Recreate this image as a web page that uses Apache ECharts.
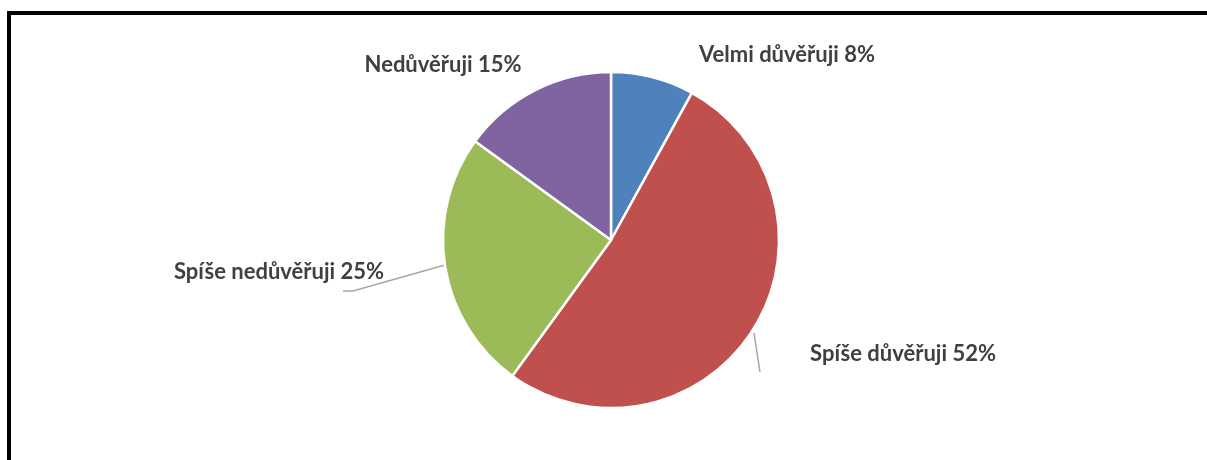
<!DOCTYPE html>
<html>
<head>
<meta charset="utf-8">
<script src="https://cdn.jsdelivr.net/npm/echarts@6/dist/echarts.min.js"></script>
<style>html,body{margin:0;padding:0;background:#fff}#c{width:1207px;height:460px}</style>
</head>
<body>
<div id="c"></div>
<script>
const categories = ['Velmi důvěřuji', 'Spíše důvěřuji', 'Spíše nedůvěřuji', 'Nedůvěřuji'];
const values = [8, 52, 25, 15];
const colors = ['#4F81BD', '#C0504D', '#9BBB59', '#8064A2'];
const showLine = [false, true, true, false];
// label placement (text centre) and leader line points
const labelPos = [[787, 55], [903, 354], [279, 272], [443, 65]];
const linePts = [null, [[754, 333], [760, 372]], [[445, 265], [353, 291], [343, 291]], null];

const chart = echarts.init(document.getElementById('c'));
chart.setOption({
  animation: false,
  backgroundColor: '#fff',
  graphic: [{
    type: 'rect', shape: {x: 9, y: 13, width: 1260, height: 520},
    style: {fill: 'none', stroke: '#000', lineWidth: 4}, silent: true
  }],
  series: [{
    type: 'pie',
    center: [611, 240],
    radius: 168,
    startAngle: 90,
    clockwise: true,
    data: categories.map((n, i) => ({
      name: n, value: values[i],
      itemStyle: {color: colors[i]},
      labelLine: {show: showLine[i]}
    })),
    itemStyle: {borderColor: '#fff', borderWidth: 2.5},
    label: {
      show: true,
      formatter: p => p.name + ' ' + p.value + '%',
      fontFamily: 'Lato',
      fontWeight: 'bold',
      fontSize: 22,
      color: '#404040'
    },
    labelLine: {lineStyle: {color: '#A6A6A6', width: 1.5}},
    labelLayout: function (p) {
      const i = p.dataIndex;
      const r = {x: labelPos[i][0], y: labelPos[i][1], align: 'center', verticalAlign: 'middle'};
      if (linePts[i]) r.labelLinePoints = linePts[i];
      return r;
    }
  }]
});
</script>
</body>
</html>
